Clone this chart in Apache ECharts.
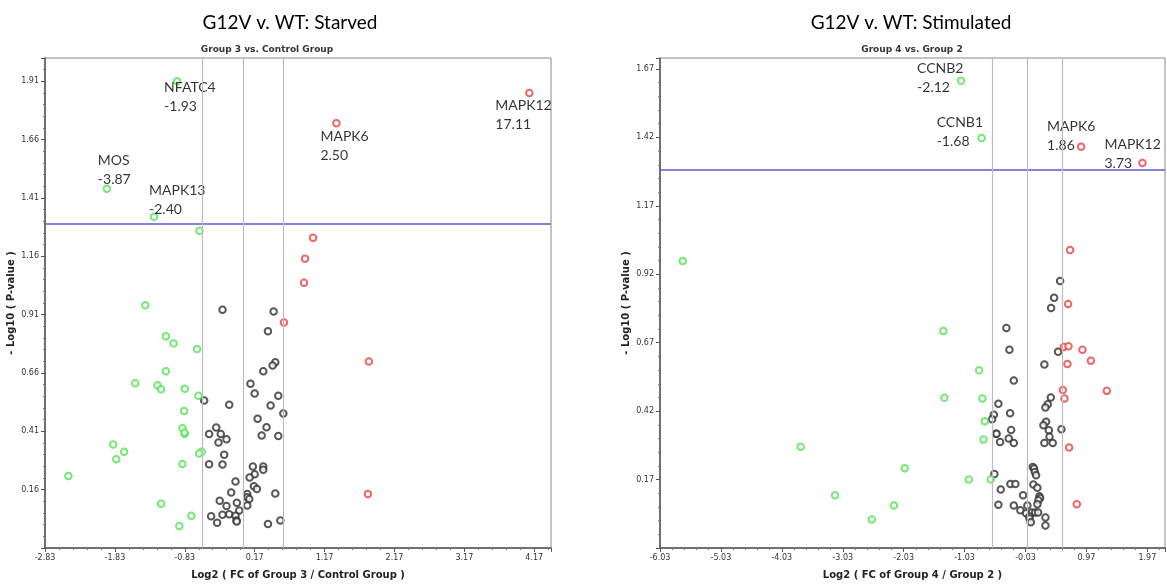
<!DOCTYPE html>
<html>
<head>
<meta charset="utf-8">
<title>G12V v. WT volcano plots</title>
<script src="https://cdn.jsdelivr.net/npm/echarts@6/dist/echarts.min.js"></script>
<style>
	html, body { margin: 0; padding: 0; background: #fff; }
	#main { width: 1167px; height: 585px; }
</style>
</head>
<body>
<div id="main"></div>
<script>
// cut-offs drawn on both plots
const pThreshold = 1.30
const fcLines = [-0.585, 0, 0.585]

// ---- Starved: Group 3 vs. Control Group ----
const starvedGreen = [
	[-0.62, 1.27], [-1.395, 0.95], [-1.10, 0.817], [-0.99, 0.786], [-0.654, 0.763],
	[-1.10, 0.668], [-1.54, 0.616], [-1.22, 0.608], [-1.17, 0.59], [-0.83, 0.592],
	[-0.635, 0.562], [-0.84, 0.497], [-0.864, 0.423], [-0.83, 0.40], [-0.835, 0.405],
	[-1.854, 0.354], [-1.697, 0.323], [-0.587, 0.323], [-0.625, 0.315], [-1.81, 0.29],
	[-0.864, 0.27], [-2.495, 0.219], [-1.17, 0.10], [-0.735, 0.048], [-0.908, 0.004]
]
const starvedBlack = [
	[-0.29, 0.931], [0.441, 0.924], [0.36, 0.839], [0.465, 0.706], [0.427, 0.692],
	[0.293, 0.668], [0.11, 0.614], [0.17, 0.572], [0.508, 0.562], [-0.553, 0.542],
	[-0.194, 0.524], [0.398, 0.521], [0.58, 0.486], [0.212, 0.464], [0.34, 0.428],
	[-0.38, 0.426], [-0.482, 0.399], [-0.315, 0.399], [0.27, 0.392], [0.508, 0.39],
	[-0.233, 0.376], [-0.348, 0.362], [-0.266, 0.31], [-0.482, 0.269], [-0.29, 0.268],
	[0.144, 0.259], [0.293, 0.259], [0.293, 0.245], [0.17, 0.226], [0.097, 0.212],
	[-0.104, 0.195], [0.159, 0.175], [0.202, 0.163], [0.465, 0.144], [-0.166, 0.148],
	[0.064, 0.141], [0.064, 0.128], [0.093, 0.12], [-0.33, 0.112], [-0.085, 0.104],
	[0.064, 0.092], [-0.233, 0.09], [-0.051, 0.071], [-0.453, 0.046], [-0.29, 0.052],
	[-0.194, 0.055], [-0.104, 0.048], [-0.09, 0.028], [-0.087, 0.024], [-0.367, 0.018],
	[0.36, 0.013], [0.537, 0.028]
]
const starvedRed = [
	[1.005, 1.24], [0.89, 1.15], [0.876, 1.047], [0.589, 0.876], [1.804, 0.709], [1.79, 0.141]
]
const starvedHitGenes = ['NFATC4', 'MOS', 'MAPK13', 'MAPK6', 'MAPK12']
const starvedHitFC = ['-1.93', '-3.87', '-2.40', '2.50', '17.11']
const starvedHitPoints = [[-0.94, 1.91], [-1.945, 1.45], [-1.27, 1.33], [1.34, 1.73], [4.10, 1.86]]

// ---- Stimulated: Group 4 vs. Group 2 ----
const stimGreen = [
	[-5.657, 0.968], [-1.378, 0.713], [-0.792, 0.569], [-1.362, 0.469], [-0.738, 0.466],
	[-0.698, 0.383], [-0.72, 0.316], [-3.72, 0.29], [-2.012, 0.211], [-0.96, 0.17],
	[-0.6, 0.17], [-3.156, 0.113], [-2.19, 0.075], [-2.554, 0.024]
]
const stimBlack = [
	[0.538, 0.895], [0.44, 0.834], [0.39, 0.797], [-0.344, 0.724], [-0.294, 0.644],
	[0.505, 0.637], [0.28, 0.59], [-0.222, 0.532], [0.385, 0.47], [0.336, 0.445],
	[0.297, 0.433], [-0.475, 0.447], [-0.283, 0.412], [-0.55, 0.407], [-0.579, 0.39],
	[0.308, 0.381], [0.264, 0.368], [0.56, 0.354], [-0.266, 0.351], [0.353, 0.35],
	[-0.513, 0.337], [-0.505, 0.337], [0.364, 0.326], [-0.305, 0.32], [-0.447, 0.307],
	[-0.222, 0.304], [0.28, 0.304], [0.417, 0.304], [0.09, 0.216], [0.111, 0.21],
	[0.123, 0.198], [0.144, 0.186], [-0.541, 0.19], [-0.278, 0.154], [-0.196, 0.154],
	[0.099, 0.152], [0.165, 0.14], [-0.436, 0.134], [-0.07, 0.113], [0.198, 0.109],
	[0.21, 0.103], [0.182, 0.094], [-0.475, 0.078], [-0.222, 0.075], [0.001, 0.075],
	[0.165, 0.08], [-0.114, 0.058], [-0.02, 0.047], [0.073, 0.05], [0.128, 0.05],
	[0.177, 0.05], [0.035, 0.035], [0.035, 0.028], [0.297, 0.031], [0.057, 0.014],
	[0.297, 0.002]
]
const stimRed = [
	[0.702, 1.009], [0.67, 0.811], [0.599, 0.654], [0.675, 0.657], [0.905, 0.644],
	[1.043, 0.604], [0.658, 0.592], [0.583, 0.497], [0.61, 0.466], [1.305, 0.494],
	[0.686, 0.287], [0.812, 0.08]
]
const stimHitGenes = ['CCNB2', 'CCNB1', 'MAPK6', 'MAPK12']
const stimHitFC = ['-2.12', '-1.68', '1.86', '3.73']
const stimHitPoints = [[-1.087, 1.627], [-0.75, 1.418], [0.883, 1.386], [1.89, 1.326]]

const GREEN = '#52e352'
const RED = '#ec3f3f'
const BLACK = '#2e2e2e'

// where each gene label sits relative to its point (px)
const labelOffsets = {
	starved: [[-12, -2], [-8, -37], [-4, -35], [-15, 5], [-33, 4]],
	stim: [[-43, -21], [-44, -24], [-33, -29], [-37, -27]]
}

function valueAxis(gridIndex, min, max, name, isY) {
	return {
		type: 'value',
		gridIndex: gridIndex,
		min: min,
		max: max,
		interval: 0.25 * (isY ? 1 : 4),
		name: name,
		nameLocation: 'middle',
		nameGap: isY ? 29 : 22,
		nameTextStyle: {
			fontFamily: 'DejaVu Sans',
			fontWeight: 'bold',
			fontSize: 10,
			color: '#222'
		},
		axisLine: { show: true, onZero: false, lineStyle: { color: '#555', width: 1.5 } },
		axisTick: { show: true, length: 4, lineStyle: { color: '#555' } },
		minorTick: { show: true, splitNumber: 5, length: 2, lineStyle: { color: '#777' } },
		splitLine: { show: false },
		axisLabel: {
			fontFamily: 'DejaVu Sans',
			fontSize: 8,
			color: '#333',
			margin: 6,
			showMinLabel: !isY,
			showMaxLabel: false,
			formatter: v => v.toFixed(2)
		}
	}
}

function scatter(gridIndex, data, color) {
	return {
		type: 'scatter',
		xAxisIndex: gridIndex,
		yAxisIndex: gridIndex,
		symbol: 'emptyCircle',
		symbolSize: 6.5,
		silent: true,
		itemStyle: { color: color, borderWidth: 1.2 },
		data: data
	}
}

function hitSeries(gridIndex, points, genes, fcs, offsets) {
	const s = scatter(gridIndex, points.map((p, i) => ({
		value: p,
		label: {
			show: true,
			position: [offsets[i][0] + 3.25, offsets[i][1] + 3.25],
			formatter: genes[i] + '\n' + fcs[i]
		}
	})), GREEN)
	s.itemStyle.color = params => (parseFloat(fcs[params.dataIndex]) < 0 ? GREEN : RED)
	s.label = {
		align: 'left',
		verticalAlign: 'top',
		fontFamily: 'Lato',
		fontSize: 14,
		lineHeight: 19,
		color: '#000'
	}
	return s
}

function cutLines() {
	const vertical = fcLines.map(x => ({ xAxis: x, lineStyle: { color: '#bdbdbd', width: 1.2, type: 'solid' } }))
	return {
		silent: true,
		symbol: 'none',
		label: { show: false },
		data: [{ yAxis: pThreshold, lineStyle: { color: '#5b5bd6', width: 1.5, type: 'solid' } }].concat(vertical)
	}
}

let myChart = echarts.init(document.getElementById('main'))

let blackStarved = scatter(0, starvedBlack, BLACK)
blackStarved.markLine = cutLines()
let blackStim = scatter(1, stimBlack, BLACK)
blackStim.markLine = cutLines()

const titleFont = { fontFamily: 'Lato', fontSize: 19, fontWeight: 'normal', color: '#000' }
const subFont = { fontFamily: 'DejaVu Sans', fontSize: 9, fontWeight: 'bold', color: '#333' }

myChart.setOption({
	animation: false,
	title: [
		{ text: 'G12V v. WT: Starved', left: 285, top: 8, textAlign: 'center', textStyle: titleFont },
		{ text: 'Group 3 vs. Control Group', left: 262, top: 40, textAlign: 'center', textStyle: subFont },
		{ text: 'G12V v. WT: Stimulated', left: 906, top: 8, textAlign: 'center', textStyle: titleFont },
		{ text: 'Group 4 vs. Group 2', left: 907, top: 40, textAlign: 'center', textStyle: subFont }
	],
	grid: [
		{ left: 45, top: 58, width: 506, height: 491, show: true, borderColor: '#8a8a8a', borderWidth: 1 },
		{ left: 660, top: 58, width: 505, height: 491, show: true, borderColor: '#8a8a8a', borderWidth: 1 }
	],
	xAxis: [
		valueAxis(0, -2.83, 4.41, 'Log2 ( FC of Group 3 / Control Group )', false),
		valueAxis(1, -6.03, 2.26, 'Log2 ( FC of Group 4 / Group 2 )', false)
	],
	yAxis: [
		valueAxis(0, -0.09, 2.01, '- Log10 ( P-value )', true),
		valueAxis(1, -0.08, 1.71, '- Log10 ( P-value )', true)
	],
	series: [
		blackStarved,
		scatter(0, starvedGreen, GREEN),
		scatter(0, starvedRed, RED),
		hitSeries(0, starvedHitPoints, starvedHitGenes, starvedHitFC, labelOffsets.starved),
		blackStim,
		scatter(1, stimGreen, GREEN),
		scatter(1, stimRed, RED),
		hitSeries(1, stimHitPoints, stimHitGenes, stimHitFC, labelOffsets.stim)
	]
})
</script>
</body>
</html>
